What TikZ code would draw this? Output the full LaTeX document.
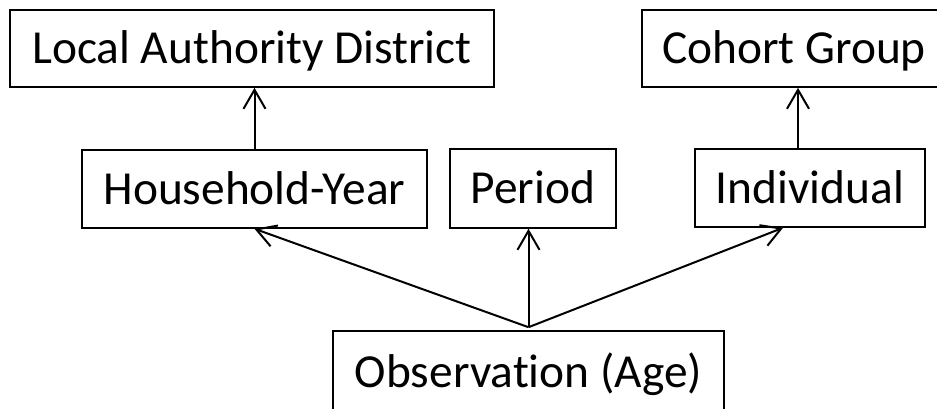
\documentclass[tikz,border=0pt]{standalone}
\usepackage{fontspec}
\setmainfont[Ligatures=NoCommon]{Carlito}
\usetikzlibrary{arrows.meta}
\begin{document}
\begin{tikzpicture}[x=1pt,y=-1pt,
  box/.style={draw,line width=1.6pt,inner sep=0pt,text height=30.3pt,text depth=0pt,font=\fontsize{47.4}{56}\selectfont},
  arr/.style={line width=2pt,-{Straight Barb[length=19pt,width=22pt,line width=2pt]}}]
\useasboundingbox (0,0) rectangle (937,408);
\clip (0,0) rectangle (937,408);
\node[box,minimum width=484pt,minimum height=77pt] (lad) at (252,48.5) {Local Authority District};
\node[box,minimum width=304pt,minimum height=77pt] (coh) at (794,48.5) {Cohort Group};
\node[box,minimum width=345pt,minimum height=78pt] (hy) at (254.5,189) {Household-Year};
\node[box,minimum width=166pt,minimum height=79pt] (per) at (533,188.5) {Period};
\node[box,minimum width=230pt,minimum height=78pt] (ind) at (810,188) {Individual};
\node[box,minimum width=391pt,minimum height=83pt] (obs) at (528.5,372.5) {Observation (Age)};
\coordinate (hytop) at (hy.north);
\coordinate (indtop) at ([xshift=-12pt]ind.north);
\coordinate (indbot) at ([xshift=-27pt]ind.south);
\coordinate (src) at ([yshift=3pt]obs.north);
\draw[arr] (hytop) -- (hytop |- lad.south);
\draw[arr] (indtop) -- (indtop |- coh.south);
\draw[arr] (src) -- (hy.south);
\draw[arr] (src) -- (src |- per.south);
\draw[arr] (src) -- (indbot);
\end{tikzpicture}
\end{document}
